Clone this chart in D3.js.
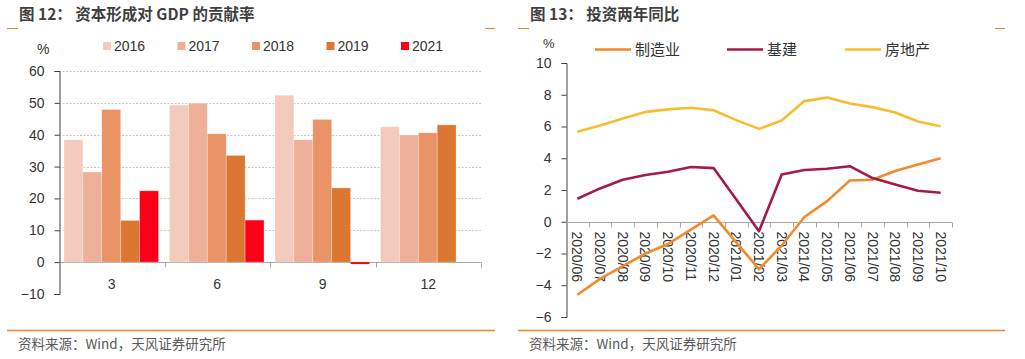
<!DOCTYPE html>
<html><head><meta charset="utf-8">
<script src="https://cdn.jsdelivr.net/npm/d3@7/dist/d3.min.js"></script>
<style>
body{margin:0;background:#fff;}
svg{display:block;font-family:"Liberation Sans",Arial,"Noto Sans CJK SC",sans-serif;}
.cjk{font-family:"Noto Sans CJK SC","Liberation Sans",sans-serif;}
</style></head>
<body><svg id="c" width="1025" height="359"></svg>
<script>
// ---- Chart 12 data ----
const barCats = ["3","6","9","12"];
const barYears = ["2016","2017","2018","2019","2021"];
const v2016 = [38.4, 49.3, 52.4, 42.5];
const v2017 = [28.3, 49.9, 38.4, 39.9];
const v2018 = [47.9, 40.3, 44.8, 40.6];
const v2019 = [13.1, 33.5, 23.3, 43.1];
const v2021 = [22.4, 13.2, -0.6, null];
const barTicks = [-10,0,10,20,30,40,50,60];
const barColors = ["#F3CABB","#EEB098","#E99366","#DC7633","#FB0016"];

// ---- Chart 13 data ----
const months = ["2020/06","2020/07","2020/08","2020/09","2020/10","2020/11","2020/12","2021/01","2021/02","2021/03","2021/04","2021/05","2021/06","2021/07","2021/08","2021/09","2021/10"];
const mfg = [-4.6,-3.6,-2.8,-2.0,-1.4,-0.5,0.4,-1.3,-3.0,-1.5,0.3,1.3,2.6,2.65,3.2,3.6,4.0];
const infra = [1.45,2.1,2.65,2.95,3.15,3.45,3.38,1.4,-0.6,2.98,3.26,3.34,3.5,2.75,2.35,1.95,1.83];
const realty = [5.67,6.07,6.5,6.92,7.08,7.18,7.02,6.4,5.85,6.38,7.6,7.82,7.45,7.22,6.88,6.32,6.02];
const lineNames = ["制造业","基建","房地产"];
const lineColors = ["#F28A2D","#A21C45","#F7BD31"];
const lineTicks = [-6,-4,-2,0,2,4,6,8,10];

const svg = d3.select("#c");
const orange = "#F08519";

// headers / footers
function frame(x0, x1, titleX, title){
  svg.append("text").attr("class","cjk").attr("x",titleX).attr("y",20)
    .attr("font-size",15.5).attr("font-weight","bold").attr("fill","#3F3F3F").text(title);
  svg.append("line").attr("x1",x0).attr("x2",x0+11).attr("y1",28.5).attr("y2",28.5).attr("stroke",orange).attr("stroke-width",1);
  svg.append("line").attr("x1",x1-10).attr("x2",x1).attr("y1",28.5).attr("y2",28.5).attr("stroke",orange).attr("stroke-width",1);
  svg.append("line").attr("x1",x0).attr("x2",x1).attr("y1",330.5).attr("y2",330.5).attr("stroke",orange).attr("stroke-width",1.3);
  svg.append("text").attr("class","cjk").attr("x",titleX-1).attr("y",349)
    .attr("font-size",13.5).attr("fill","#595959").text("资料来源：Wind，天风证券研究所");
}
frame(7,495,19,"图 12： 资本形成对 GDP 的贡献率");
frame(518,1005,530,"图 13： 投资两年同比");

// ---- Chart 12 ----
{
  const x0 = d3.scaleBand().domain(barCats).range([59,481]);
  const x1 = d3.scaleBand().domain(barYears).range([5, x0.bandwidth()-6]);
  const y = d3.scaleLinear().domain([-10,60]).range([294,71]);
  const g = svg.append("g");
  // grid
  g.selectAll(".gl").data(barTicks.filter(t=>t>0)).join("line")
    .attr("x1",59).attr("x2",481).attr("y1",d=>Math.round(y(d))+0.5).attr("y2",d=>Math.round(y(d))+0.5)
    .attr("stroke","#C8C8C8").attr("stroke-dasharray","2,1.5").attr("stroke-width",1);
  // x axis at zero (drawn beneath bars)
  const xg = g.append("g").attr("transform",`translate(0,${Math.round(y(0))+0.5})`);
  xg.append("line").attr("x1",59).attr("x2",481).attr("stroke","#A6A6A6");
  xg.selectAll(".xt").data(barCats.map(c=>x0(c)+x0.bandwidth())).join("line")
    .attr("x1",d=>Math.round(d)+0.5).attr("x2",d=>Math.round(d)+0.5).attr("y1",0).attr("y2",5).attr("stroke","#A6A6A6");
  xg.selectAll(".xl").data(barCats).join("text")
    .attr("x",d=>x0(d)+x0.bandwidth()/2).attr("y",26).attr("text-anchor","middle")
    .attr("font-size",14).attr("fill","#333").text(d=>d);
  const series = [v2016,v2017,v2018,v2019,v2021];
  series.forEach((arr,i)=>{
    g.selectAll(".b"+i).data(barCats.map((c,j)=>({c,v:arr[j]})).filter(d=>d.v!==null)).join("rect")
      .attr("x",d=>x0(d.c)+x1(barYears[i]))
      .attr("width",x1.bandwidth())
      .attr("y",d=>y(Math.max(0,d.v)))
      .attr("height",d=>Math.abs(y(d.v)-y(0)))
      .attr("fill",barColors[i]).attr("stroke","#fff").attr("stroke-opacity",0.35).attr("stroke-width",d=>d.v<0?0:0.8);
  });
  // y axis
  const ya = d3.axisLeft(y).tickValues(barTicks).tickSize(5).tickPadding(10);
  const yg = g.append("g").attr("transform","translate(59.5,0)").call(ya);
  yg.select(".domain").attr("stroke","#404040");
  yg.selectAll(".tick line").attr("stroke","#404040");
  yg.selectAll("text").attr("font-size",14).attr("fill","#333").attr("font-family","Liberation Sans, Arial");
  svg.append("text").attr("x",37).attr("y",54).attr("font-size",14).attr("fill","#333").text("%");
  // legend
  barYears.forEach((yr,i)=>{
    const lx = 103 + i*74.5;
    svg.append("rect").attr("x",lx).attr("y",42).attr("width",8).attr("height",8).attr("fill",barColors[i]);
    svg.append("text").attr("x",lx+11).attr("y",51).attr("font-size",14).attr("fill","#333").text(yr);
  });
}

// ---- Chart 13 ----
{
  const x = d3.scalePoint().domain(months).range([566,952]).padding(0.5);
  const xb = d3.scaleBand().domain(months).range([566,952]);
  const y = d3.scaleLinear().domain([-6,10]).range([317,63]);
  const g = svg.append("g");
  const ya = d3.axisLeft(y).tickValues(lineTicks).tickSize(5).tickPadding(10);
  const yg = g.append("g").attr("transform","translate(566.5,0)").call(ya);
  yg.select(".domain").attr("stroke","#404040");
  yg.selectAll(".tick line").attr("stroke","#404040");
  yg.selectAll("text").attr("font-size",14).attr("fill","#333").attr("font-family","Liberation Sans, Arial");
  svg.append("text").attr("x",543).attr("y",48).attr("font-size",13).attr("fill","#333").text("%");
  const zy = Math.round(y(0))+0.5;
  g.append("line").attr("x1",566).attr("x2",952).attr("y1",zy).attr("y2",zy).attr("stroke","#A6A6A6");
  g.selectAll(".xt").data(months).join("line")
    .attr("x1",d=>Math.round(xb(d)+xb.bandwidth())+0.5).attr("x2",d=>Math.round(xb(d)+xb.bandwidth())+0.5)
    .attr("y1",zy).attr("y2",zy+5).attr("stroke","#A6A6A6");
  g.selectAll(".xl").data(months).join("text")
    .attr("transform",d=>`translate(${x(d)-5},${zy+9}) rotate(90)`)
    .attr("font-size",14).attr("fill","#333").text(d=>d);
  const line = d3.line().x((d,i)=>x(months[i])).y(d=>y(d));
  [mfg,infra,realty].forEach((arr,i)=>{
    g.append("path").datum(arr).attr("d",line).attr("fill","none")
      .attr("stroke",lineColors[i]).attr("stroke-width",2.6).attr("stroke-linejoin","round");
  });
  // legend
  const lxs = [595,727,845];
  lineNames.forEach((n,i)=>{
    svg.append("line").attr("x1",lxs[i]).attr("x2",lxs[i]+36).attr("y1",49.5).attr("y2",49.5)
      .attr("stroke",lineColors[i]).attr("stroke-width",2.6);
    svg.append("text").attr("class","cjk").attr("x",lxs[i]+40).attr("y",55).attr("font-size",15).attr("fill","#333").text(n);
  });
}
</script></body></html>
